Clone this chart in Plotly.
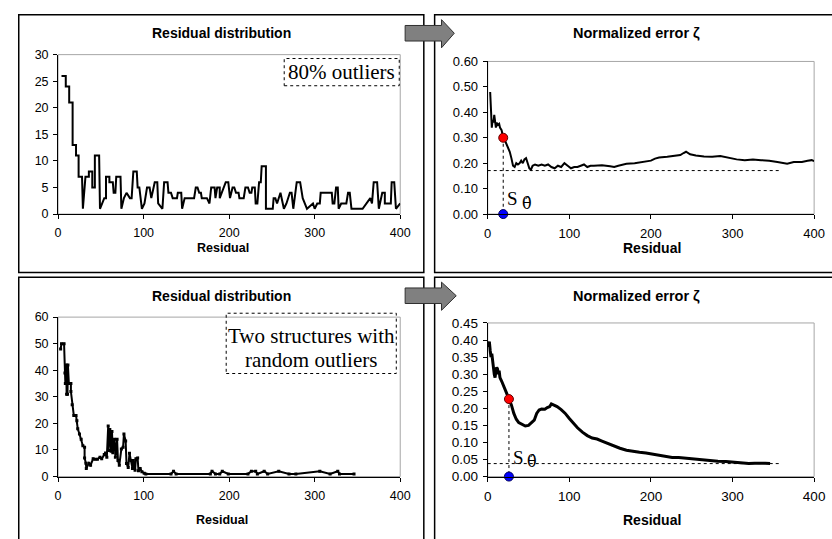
import plotly.graph_objects as go

W, H = 832, 539

# ---------------- data ----------------
tl_x = [4, 9, 9, 13, 13, 17, 17, 21, 21, 24, 24, 28, 29, 32, 36, 36, 40, 40, 43, 43, 48, 49, 54, 56, 56, 60, 60, 64, 65, 67, 68, 73, 74, 77, 80, 84, 86, 88, 92, 93, 95, 98, 101, 104, 107, 109, 113, 116, 117, 122, 124, 128, 129, 132, 134, 139, 140, 144, 145, 148, 159, 161, 163, 165, 167, 168, 174, 177, 179, 183, 184, 186, 189, 189, 196, 199, 201, 204, 206, 208, 211, 212, 217, 219, 222, 224, 226, 227, 230, 231, 233, 235, 237, 238, 243, 243, 251, 252, 254, 256, 260, 264, 267, 271, 273, 275, 279, 283, 286, 291, 298, 300, 303, 306, 307, 320, 321, 323, 325, 327, 328, 331, 337, 339, 341, 343, 356, 365, 367, 369, 373, 375, 379, 382, 382, 389, 390, 393, 395, 400]
tl_y = [26, 26, 24, 24, 21, 21, 13, 13, 11, 11, 7, 7, 1, 7, 7, 8, 8, 5, 5, 11, 11, 1, 3, 3, 7, 7, 6, 6, 4, 4, 7, 7, 1, 3, 4, 3, 3, 8, 8, 5, 5, 1, 2, 5, 5, 3, 6, 6, 2, 1, 6, 6, 4, 4, 3, 3, 4, 4, 1, 3, 3, 5, 5, 4, 4, 3, 3, 2, 5, 5, 3, 5, 5, 3, 6, 6, 3, 5, 5, 4, 4, 3, 3, 5, 5, 4, 4, 5, 5, 2, 2, 6, 6, 9, 9, 1, 1, 3, 3, 2, 4, 1, 2, 4, 4, 1, 6, 6, 3, 1, 2, 1, 2, 2, 4, 4, 2, 2, 5, 5, 1, 2, 2, 4, 4, 1, 1, 3, 2, 6, 6, 1, 4, 4, 2, 2, 6, 6, 1, 2]

tr_x = [3, 4, 5, 6, 7, 8, 9, 10, 11, 12, 14, 15, 17, 19, 21, 23, 25, 27, 29, 31, 33, 35, 37, 39, 41, 43, 45, 47, 49, 51, 53, 55, 58, 62, 66, 70, 74, 78, 82, 86, 90, 94, 98, 102, 106, 110, 114, 118, 122, 126, 130, 140, 150, 155, 160, 165, 170, 180, 190, 200, 205, 210, 220, 230, 236, 240, 243, 248, 255, 265, 275, 285, 295, 305, 315, 325, 335, 345, 355, 362, 367, 375, 385, 392, 397, 400]
tr_y = [0.48, 0.42, 0.34, 0.37, 0.36, 0.39, 0.35, 0.34, 0.36, 0.35, 0.355, 0.34, 0.33, 0.30, 0.29, 0.275, 0.26, 0.245, 0.22, 0.19, 0.185, 0.20, 0.195, 0.20, 0.21, 0.20, 0.215, 0.22, 0.20, 0.18, 0.175, 0.19, 0.195, 0.19, 0.195, 0.19, 0.195, 0.185, 0.18, 0.19, 0.185, 0.20, 0.19, 0.18, 0.185, 0.185, 0.19, 0.195, 0.185, 0.19, 0.19, 0.192, 0.188, 0.185, 0.19, 0.195, 0.198, 0.20, 0.205, 0.21, 0.218, 0.222, 0.225, 0.23, 0.232, 0.24, 0.245, 0.235, 0.23, 0.226, 0.225, 0.228, 0.22, 0.215, 0.212, 0.215, 0.212, 0.21, 0.205, 0.20, 0.198, 0.205, 0.205, 0.21, 0.212, 0.208]
tr_mark_x = 19
tr_mark_y = 0.30
tr_level = 0.171
tr_level_end = 357

bl_x = [3, 4, 7, 8, 8.5, 9.5, 10, 11, 11.5, 12.6, 15, 15, 16.5, 18.4, 21, 22, 23, 25, 27, 29, 31, 31, 32.5, 33, 36, 38, 41, 43, 46, 49, 51, 54, 55.5, 57, 58.6, 59, 60.5, 62, 63, 64, 66, 67, 69, 70, 71.6, 74, 76, 77, 79, 80, 82, 83.5, 85, 87, 88, 90, 91, 93, 94, 96, 98, 100.7, 102.6, 132, 135, 138, 178, 180, 184, 189, 192, 199, 222, 226, 231, 233, 241, 245, 258, 270, 278, 306, 318, 327, 329, 346]
bl_y = [48, 50, 50, 39, 35, 42, 31, 31, 42, 35, 35, 32, 27, 23, 23, 21, 18, 16, 14, 11.6, 11, 7, 5, 3, 5, 4.3, 6.7, 6.5, 6.5, 7.3, 6.7, 8.3, 8.9, 7.3, 19, 9.8, 17.7, 9.5, 17, 9, 14, 7.3, 14, 6, 4.3, 10.4, 11, 16, 13.4, 4.9, 3.4, 8.8, 6, 3, 6, 2.4, 6.7, 7, 2.2, 3, 1.8, 1.2, 1, 1, 2, 1, 1, 2, 1, 1, 2, 1, 1, 2, 2, 1, 2, 1, 2, 1, 1, 2, 1, 2, 1, 1]

br_x = [0, 1, 2, 3, 4, 5, 6, 7, 8, 9, 10, 11, 12, 13, 14, 15, 17, 20, 23, 26, 29, 32, 35, 38, 42, 46, 50, 54, 57, 60, 63, 66, 70, 73, 76, 78, 81, 85, 90, 95, 100, 105, 110, 116, 122, 128, 134, 140, 146, 154, 162, 170, 178, 186, 194, 202, 210, 218, 226, 234, 242, 252, 262, 272, 282, 292, 302, 312, 320, 327, 333, 340, 346]
br_y = [0.38, 0.39, 0.395, 0.37, 0.35, 0.36, 0.33, 0.32, 0.30, 0.29, 0.31, 0.32, 0.315, 0.30, 0.31, 0.29, 0.28, 0.26, 0.245, 0.227, 0.21, 0.185, 0.168, 0.158, 0.152, 0.148, 0.15, 0.158, 0.165, 0.185, 0.195, 0.198, 0.197, 0.202, 0.205, 0.213, 0.21, 0.205, 0.196, 0.185, 0.17, 0.155, 0.143, 0.13, 0.12, 0.113, 0.11, 0.104, 0.098, 0.09, 0.083, 0.077, 0.073, 0.071, 0.069, 0.066, 0.062, 0.058, 0.056, 0.056, 0.054, 0.051, 0.049, 0.047, 0.045, 0.044, 0.042, 0.04, 0.038, 0.039, 0.04, 0.039, 0.038]
br_mark_x = 26
br_mark_y = 0.227
br_level = 0.038
br_level_end = 357

panel_titles = ["Residual distribution", "Normalized error ζ", "Residual distribution", "Normalized error ζ"]
x_title = "Residual"
box1_text = "80% outliers"
box2_lines = ["Two structures with", "random outliers"]

# ---------------- helpers ----------------
def px(x):
    return x / W

def py(y):
    return 1 - y / H

SANS = "Arial, Liberation Sans, sans-serif"
SERIF = "Times New Roman, Liberation Serif, serif"

fig = go.Figure()

fig.add_trace(go.Scatter(x=tl_x, y=tl_y, mode="lines", line=dict(color="black", width=2), xaxis="x", yaxis="y"))
fig.add_trace(go.Scatter(x=tr_x, y=tr_y, mode="lines", line=dict(color="black", width=2), xaxis="x2", yaxis="y2"))
fig.add_trace(go.Scatter(x=bl_x, y=bl_y, mode="lines+markers", line=dict(color="black", width=2),
                         marker=dict(color="black", size=3, symbol="square"), xaxis="x3", yaxis="y3"))
fig.add_trace(go.Scatter(x=br_x, y=br_y, mode="lines", line=dict(color="black", width=3), xaxis="x4", yaxis="y4"))

for xa, ya, mx, my, lvl, lend in [("x2", "y2", tr_mark_x, tr_mark_y, tr_level, tr_level_end),
                                  ("x4", "y4", br_mark_x, br_mark_y, br_level, br_level_end)]:
    fig.add_trace(go.Scatter(x=[0, lend], y=[lvl, lvl], mode="lines",
                             line=dict(color="black", width=1, dash="dot"), xaxis=xa, yaxis=ya))
    fig.add_trace(go.Scatter(x=[mx, mx], y=[my, 0], mode="lines",
                             line=dict(color="black", width=1, dash="dot"), xaxis=xa, yaxis=ya))
    fig.add_trace(go.Scatter(x=[mx], y=[my], mode="markers", cliponaxis=False,
                             marker=dict(color="#ff0000", size=9, line=dict(color="#600000", width=1)),
                             xaxis=xa, yaxis=ya))
    fig.add_trace(go.Scatter(x=[mx], y=[0], mode="markers", cliponaxis=False,
                             marker=dict(color="#0000ff", size=9, line=dict(color="#000060", width=1)),
                             xaxis=xa, yaxis=ya))

# plot-area domains in pixels: (left, right, top, bottom), tick font size
areas = {
    "": (55, 403, 49, 213, 12.5),
    "2": (492, 824, 56, 213, 13),
    "3": (55, 403, 319, 483, 12.5),
    "4": (492, 824, 325, 483, 13.5),
}
yranges = {"": ([0, 30], 5, None), "2": ([0, 0.6], 0.1, ".2f"), "3": ([0, 60], 10, None), "4": ([0, 0.45], 0.05, ".2f")}

layout = dict(width=W, height=H, margin=dict(l=0, r=0, t=0, b=0), showlegend=False,
              plot_bgcolor="white", paper_bgcolor="white")
shapes = []
for k, (l, r, t, b, fs) in areas.items():
    rng, dt, fmt = yranges[k]
    tf = dict(family=SANS, size=fs, color="black")
    layout["xaxis" + k] = dict(domain=[px(l), px(r)], range=[0, 400], dtick=100, anchor="y" + k,
                               showline=True, linecolor="black", linewidth=1, ticks="outside",
                               ticklen=4, tickcolor="black", showgrid=False, zeroline=False,
                               tickfont=tf, ticklabelstandoff=3, fixedrange=True)
    yax = dict(domain=[py(b), py(t)], range=rng, dtick=dt, anchor="x" + k,
               showline=True, linecolor="black", linewidth=1, ticks="outside",
               ticklen=4, tickcolor="black", showgrid=False, zeroline=False,
               tickfont=tf, ticklabelstandoff=2, fixedrange=True)
    if fmt:
        yax["tickformat"] = fmt
    layout["yaxis" + k] = yax
    shapes.append(dict(type="rect", xref=("x" + k) + " domain", yref=("y" + k) + " domain",
                       x0=0, x1=1, y0=0, y1=1, line=dict(color="#a6a6a6", width=1), layer="below"))

# panel frames
for (x0, x1, y0, y1) in [(15, 427, 8, 273), (438, 845, 8, 273), (15, 427, 278, 550), (438, 845, 278, 550)]:
    shapes.append(dict(type="rect", xref="paper", yref="paper", x0=px(x0), x1=px(x1), y0=py(y1), y1=py(y0),
                       line=dict(color="black", width=1.5), fillcolor="rgba(0,0,0,0)"))

# arrows
def arrow(dy, tipx):
    pts = [(408, 19 + dy), (445, 19 + dy), (445, 13 + dy), (tipx, 27 + dy), (445, 42 + dy), (445, 35 + dy), (408, 35 + dy)]
    path = "M " + " L ".join(f"{px(a):.5f},{py(b):.5f}" for a, b in pts) + " Z"
    return dict(type="path", xref="paper", yref="paper", path=path, fillcolor="#808080",
                line=dict(color="#303030", width=1))

shapes.append(arrow(0, 458))
shapes.append(arrow(270, 460))

# dotted text boxes
shapes.append(dict(type="rect", xref="paper", yref="paper", x0=px(285), x1=px(402), y0=py(81), y1=py(53),
                   line=dict(color="black", width=1, dash="dot")))
shapes.append(dict(type="rect", xref="paper", yref="paper", x0=px(226), x1=px(399), y0=py(377), y1=py(315),
                   line=dict(color="black", width=1, dash="dot")))
layout["shapes"] = shapes

ann = []
for text, (xc, yc), fs in zip(panel_titles, [(221, 27), (643, 27), (221, 297), (643, 297)], [14, 14.5, 14, 14.5]):
    ann.append(dict(text=f"<b>{text}</b>", xref="paper", yref="paper", x=px(xc), y=py(yc),
                    xanchor="center", yanchor="middle", showarrow=False,
                    font=dict(family=SANS, size=fs, color="black")))
for (xc, yc), fs in zip([(223, 248), (659, 248), (222, 528), (659, 528)], [12.5, 14, 12.5, 14]):
    ann.append(dict(text=f"<b>{x_title}</b>", xref="paper", yref="paper", x=px(xc), y=py(yc),
                    xanchor="center", yanchor="middle", showarrow=False,
                    font=dict(family=SANS, size=fs, color="black")))

ann.append(dict(text=box1_text, xref="paper", yref="paper", x=px(343.5), y=py(67), xanchor="center",
                yanchor="middle", showarrow=False, font=dict(family=SERIF, size=21, color="black")))
for line, yc in zip(box2_lines, [338, 363]):
    ann.append(dict(text=line, xref="paper", yref="paper", x=px(312.5), y=py(yc), xanchor="center",
                    yanchor="middle", showarrow=False, font=dict(family=SERIF, size=21, color="black")))

# S theta-hat labels
for (sx, sy), (tx, ty) in [((517, 197), (532, 202)), ((523, 463), (537, 467))]:
    ann.append(dict(text="S", xref="paper", yref="paper", x=px(sx), y=py(sy), xanchor="center",
                    yanchor="middle", showarrow=False, font=dict(family=SERIF, size=19, color="black")))
    ann.append(dict(text="\u03b8\u0302", xref="paper", yref="paper", x=px(tx), y=py(ty), xanchor="center",
                    yanchor="middle", showarrow=False, font=dict(family="DejaVu Serif", size=16, color="black")))
layout["annotations"] = ann

fig.update_layout(**layout)
fig.write_html("out.html", config={"displayModeBar": False})
